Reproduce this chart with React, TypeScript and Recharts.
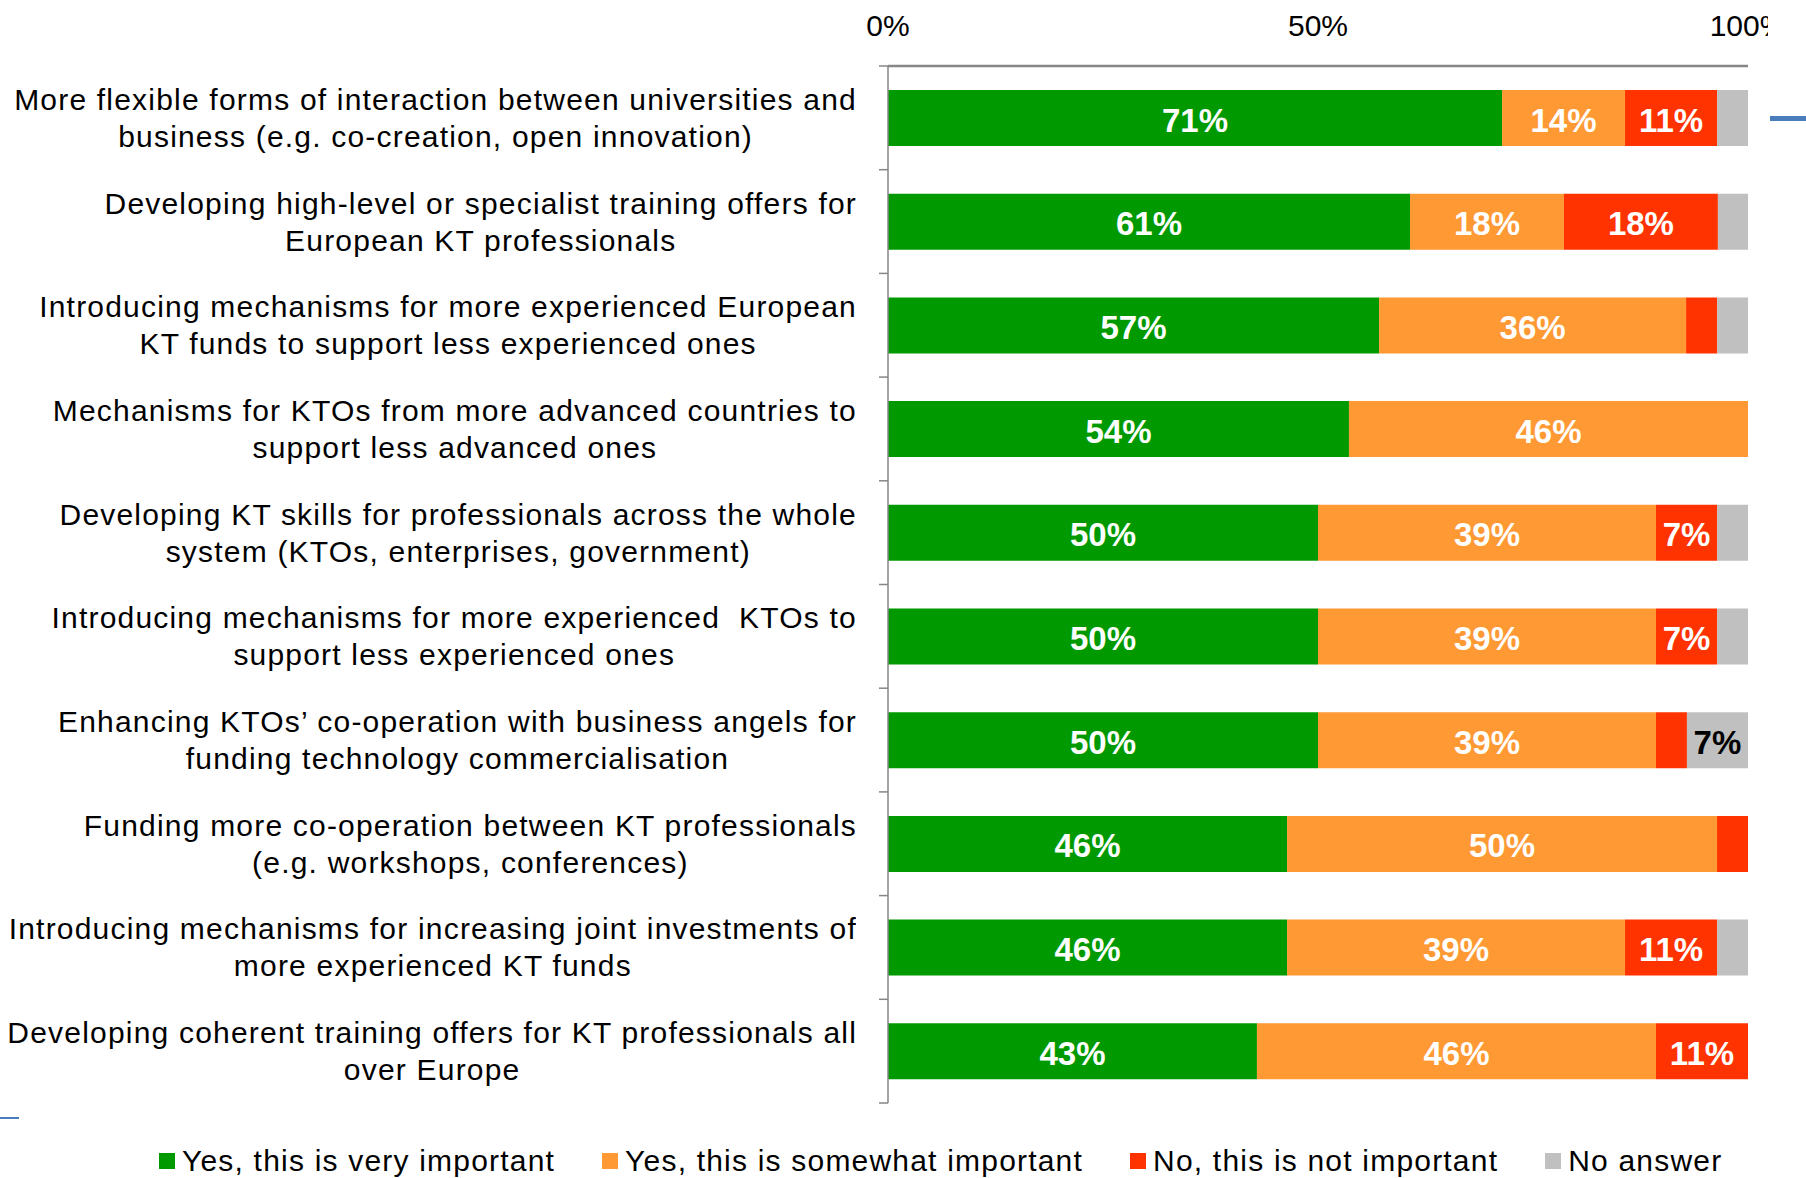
import React from "react";
import { BarChart, Bar, XAxis, YAxis, Legend, LabelList } from "recharts";

const categories = [
  "More flexible forms of interaction between universities and\nbusiness (e.g. co-creation, open innovation)",
  "Developing high-level or specialist training offers for\nEuropean KT professionals",
  "Introducing mechanisms for more experienced European\nKT funds to support less experienced ones",
  "Mechanisms for KTOs from more advanced countries to\nsupport less advanced ones",
  "Developing KT skills for professionals across the whole\nsystem (KTOs, enterprises, government)",
  "Introducing mechanisms for more experienced  KTOs to\nsupport less experienced ones",
  "Enhancing KTOs\u2019 co-operation with business angels for\nfunding technology commercialisation",
  "Funding more co-operation between KT professionals\n(e.g. workshops, conferences)",
  "Introducing mechanisms for increasing joint investments of\nmore experienced KT funds",
  "Developing coherent training offers for KT professionals all\nover Europe",
];

const seriesNames = [
  "Yes, this is very important",
  "Yes, this is somewhat important",
  "No, this is not important",
  "No answer",
];

const veryImportant = [71.4, 60.7, 57.1, 53.6, 50.0, 50.0, 50.0, 46.4, 46.4, 42.9];
const somewhatImportant = [14.3, 17.9, 35.7, 46.4, 39.3, 39.3, 39.3, 50.0, 39.3, 46.4];
const notImportant = [10.7, 17.9, 3.6, 0, 7.1, 7.1, 3.6, 3.6, 10.7, 10.7];
const noAnswer = [3.6, 3.5, 3.6, 0, 3.6, 3.6, 7.1, 0, 3.6, 0];

const xTicks = [0, 50, 100];

const data = categories.map((name, i) => ({
  name,
  very: veryImportant[i],
  somewhat: somewhatImportant[i],
  not: notImportant[i],
  none: noAnswer[i],
}));

const CHART_W = 1768;
const CHART_H = 1178;
const AXIS_TOP = 66;
const PLOT_BOTTOM = 1103;
const BAND = (PLOT_BOTTOM - AXIS_TOP) / categories.length;
const FONT = '"Liberation Sans", Arial, sans-serif';
const AXIS_GREY = "#868686";

function CategoryTick(props: any) {
  const { x, y, payload, index } = props;
  return (
    <g>
      <foreignObject x={x - 32 - 880} y={y - 50} width={880} height={100}>
        <div
          style={{
            width: 880,
            height: 100,
            display: "flex",
            justifyContent: "flex-end",
            alignItems: "center",
          }}
        >
          <div
            style={{
              textAlign: "center",
              whiteSpace: "pre",
              fontFamily: FONT,
              fontSize: 30,
              letterSpacing: "1.2px",
              lineHeight: "37px",
              color: "#000",
              marginRight: -1,
            }}
          >
            {payload.value}
          </div>
        </div>
      </foreignObject>
      <line x1={x - 9} x2={x} y1={y + BAND / 2} y2={y + BAND / 2} stroke={AXIS_GREY} strokeWidth={1.5} />
      {index === 0 && (
        <line x1={x - 9} x2={x} y1={y - BAND / 2} y2={y - BAND / 2} stroke={AXIS_GREY} strokeWidth={1.5} />
      )}
    </g>
  );
}

const makeLabel = (color: string) => (props: any) => {
  const { x, y, width, height, value } = props;
  if (value == null || value < 5) return null;
  return (
    <text
      x={x + width / 2}
      y={y + height / 2}
      dy={2}
      textAnchor="middle"
      dominantBaseline="central"
      fill={color}
      fontFamily={FONT}
      fontWeight="bold"
      fontSize={33}
    >
      {Math.round(value)}%
    </text>
  );
};

function LegendContent(props: any) {
  const items = [...(props.payload || [])].sort(
    (a: any, b: any) => seriesNames.indexOf(a.value) - seriesNames.indexOf(b.value)
  );
  return (
    <div
      style={{
        width: CHART_W,
        height: 75,
        boxSizing: "border-box",
        paddingTop: 41,
        paddingLeft: 159,
        display: "flex",
        alignItems: "flex-start",
      }}
    >
      {items.map((entry: any) => (
        <div
          key={entry.value}
          style={{ display: "flex", alignItems: "center", height: 34, marginRight: 47 }}
        >
          <span style={{ width: 16, height: 16, background: entry.color, marginRight: 7, display: "inline-block" }} />
          <span
            style={{ fontFamily: FONT, fontSize: 30, letterSpacing: "1.2px", color: "#000", whiteSpace: "nowrap" }}
          >
            {entry.value}
          </span>
        </div>
      ))}
    </div>
  );
}

export default function App() {
  return (
    <div style={{ position: "absolute", left: 0, top: 0, width: 1806, height: 1178, background: "#fff" }}>
      <div style={{ position: "absolute", left: 0, top: 0, width: CHART_W, height: CHART_H, overflow: "hidden" }}>
        <BarChart
          width={CHART_W}
          height={CHART_H}
          data={data}
          layout="vertical"
          margin={{ top: 0, right: 20, bottom: 0, left: 0 }}
        >
          <XAxis
            type="number"
            orientation="top"
            domain={[0, 100]}
            allowDataOverflow
            ticks={xTicks}
            tickFormatter={(v: number) => `${v}%`}
            height={AXIS_TOP}
            axisLine={{ stroke: AXIS_GREY, strokeWidth: 2.5 }}
            tickLine={false}
            tickSize={0}
            tickMargin={30}
            tick={{ fill: "#000", fontSize: 30, fontFamily: FONT }}
            interval={0}
          />
          <YAxis
            type="category"
            dataKey="name"
            width={888}
            axisLine={{ stroke: AXIS_GREY, strokeWidth: 1.5 }}
            tickLine={false}
            tickSize={0}
            tickMargin={0}
            tick={<CategoryTick />}
            interval={0}
          />
          <Legend verticalAlign="bottom" content={<LegendContent />} />
          <Bar dataKey="very" name={seriesNames[0]} stackId="a" fill="#009A00" barSize={56} isAnimationActive={false}>
            <LabelList dataKey="very" content={makeLabel("#fff")} />
          </Bar>
          <Bar dataKey="somewhat" name={seriesNames[1]} stackId="a" fill="#FF9933" barSize={56} isAnimationActive={false}>
            <LabelList dataKey="somewhat" content={makeLabel("#fff")} />
          </Bar>
          <Bar dataKey="not" name={seriesNames[2]} stackId="a" fill="#FF3300" barSize={56} isAnimationActive={false}>
            <LabelList dataKey="not" content={makeLabel("#fff")} />
          </Bar>
          <Bar dataKey="none" name={seriesNames[3]} stackId="a" fill="#C0C0C0" barSize={56} isAnimationActive={false}>
            <LabelList dataKey="none" content={makeLabel("#000")} />
          </Bar>
        </BarChart>
      </div>
      <div style={{ position: "absolute", left: 1770, top: 116, width: 36, height: 5, background: "#4A7EBB" }} />
      <div style={{ position: "absolute", left: 0, top: 1117, width: 19, height: 2, background: "#4A7EBB" }} />
    </div>
  );
}
